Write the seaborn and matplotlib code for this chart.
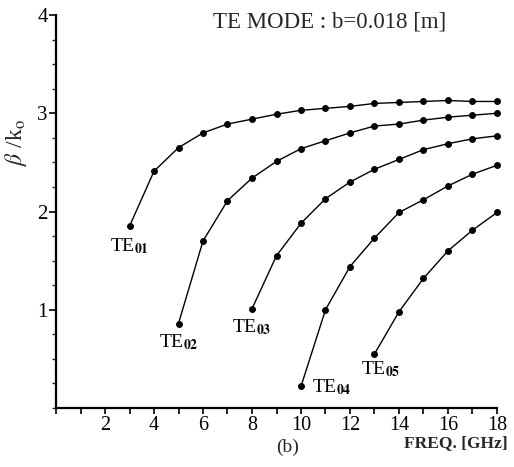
import matplotlib
matplotlib.use("Agg")
import matplotlib.pyplot as plt
import seaborn as sns
import pandas as pd
from matplotlib.ticker import MultipleLocator, FixedLocator

# ---- data ----
freq_te01 = [3, 4, 5, 6, 7, 8, 9, 10, 11, 12, 13, 14, 15, 16, 17, 18]
beta_te01 = [1.85, 2.41, 2.65, 2.80, 2.89, 2.94, 2.99, 3.03, 3.05, 3.07, 3.10, 3.11, 3.12, 3.13, 3.12, 3.12]

freq_te02 = [5, 6, 7, 8, 9, 10, 11, 12, 13, 14, 15, 16, 17, 18]
beta_te02 = [0.86, 1.70, 2.11, 2.34, 2.51, 2.64, 2.72, 2.80, 2.87, 2.89, 2.93, 2.96, 2.98, 3.00]

freq_te03 = [8, 9, 10, 11, 12, 13, 14, 15, 16, 17, 18]
beta_te03 = [1.01, 1.55, 1.88, 2.13, 2.30, 2.43, 2.53, 2.63, 2.69, 2.74, 2.77]

freq_te04 = [10, 11, 12, 13, 14, 15, 16, 17, 18]
beta_te04 = [0.22, 1.00, 1.44, 1.73, 1.99, 2.12, 2.26, 2.38, 2.47]

freq_te05 = [13, 14, 15, 16, 17, 18]
beta_te05 = [0.55, 0.98, 1.32, 1.60, 1.81, 1.99]

mode_names = ["01", "02", "03", "04", "05"]
x_major = [2, 4, 6, 8, 10, 12, 14, 16, 18]
y_major = [1, 2, 3, 4]

series = [(freq_te01, beta_te01), (freq_te02, beta_te02), (freq_te03, beta_te03),
          (freq_te04, beta_te04), (freq_te05, beta_te05)]
rows = []
for name, (fx, by) in zip(mode_names, series):
    for f, b in zip(fx, by):
        rows.append({"mode": name, "freq": f, "beta": b})
df = pd.DataFrame(rows)

# label anchor positions (data coords)
label_pos = {"01": (2.2, 1.65), "02": (4.2, 0.67), "03": (7.2, 0.82),
             "04": (10.45, 0.21), "05": (12.45, 0.40)}

sns.set_style("white")
plt.rcParams["font.family"] = ["Liberation Serif", "DejaVu Serif"]
plt.rcParams["mathtext.fontset"] = "stix"

fig = plt.figure(figsize=(5.14, 4.67), dpi=100)
ax = fig.add_axes([56 / 514, 1 - 408 / 467, (497 - 56) / 514, (408 - 15) / 467])

sns.lineplot(data=df, x="freq", y="beta", units="mode", estimator=None,
             color="black", linewidth=1.0, marker="o", markersize=4.2,
             markeredgecolor="black", ax=ax, legend=False, sort=True)
for ln in ax.lines:
    ln.set_clip_on(False)

ax.set_xlim(0, 18)
ax.set_ylim(0, 4)
for s in ["top", "right"]:
    ax.spines[s].set_visible(False)
for s in ["left", "bottom"]:
    ax.spines[s].set_linewidth(1.6)
    ax.spines[s].set_color("black")

ax.xaxis.set_major_locator(FixedLocator(x_major))
ax.xaxis.set_minor_locator(MultipleLocator(1))
ax.yaxis.set_major_locator(FixedLocator(y_major))
ax.yaxis.set_minor_locator(MultipleLocator(0.25))
ax.set_xticklabels([str(v) for v in x_major])
ax.set_yticklabels([str(v) for v in y_major])
ax.tick_params(axis="x", which="both", direction="out", length=4, width=1.2,
               bottom=True, labelsize=14.5, pad=1.5, colors="black")
ax.tick_params(axis="y", which="major", direction="out", length=5, width=1.2,
               left=True, labelsize=15, pad=1, colors="black")
ax.tick_params(axis="y", which="minor", direction="out", length=3, width=1.0, left=True)
ax.set_xlabel("")
ax.set_ylabel("")

for name in mode_names:
    x, y = label_pos[name]
    ax.text(x, y, "TE$_{\\mathbf{" + name + "}}$", fontsize=14, ha="left", va="center",
            color="black")

fig.text(330 / 514, 1 - 22 / 467, "TE MODE : b=0.018 [m]", fontsize=16.5,
         ha="center", va="center")
fig.text(16 / 514, 1 - 142 / 467, "$\\beta$ /k$_{\\rm o}$", fontsize=17,
         rotation=90, ha="center", va="center")
fig.text(456 / 514, 1 - 443 / 467, "FREQ. [GHz]", fontsize=12.5, fontweight="bold",
         ha="center", va="center")
fig.text(288 / 514, 1 - 447 / 467, "(b)", fontsize=14, ha="center", va="center")

fig.savefig("out.png", dpi=100)
